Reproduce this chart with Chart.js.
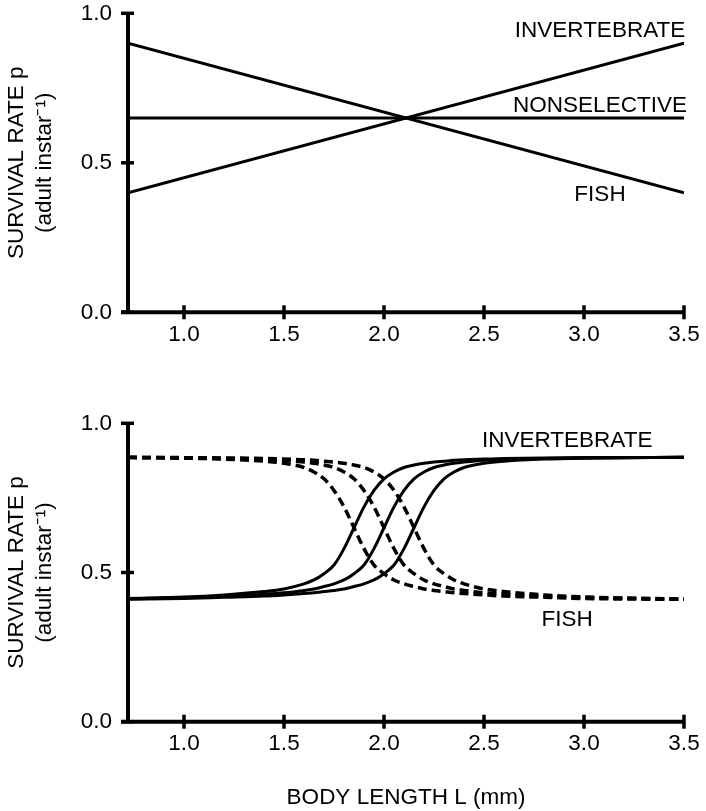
<!DOCTYPE html>
<html><head><meta charset="utf-8">
<script src="https://cdn.jsdelivr.net/npm/chart.js@4.4.1/dist/chart.umd.min.js"></script>
<style>
html,body{margin:0;padding:0;background:#fff;}
#wrap{position:relative;width:706px;height:811px;overflow:hidden;}
#c1{position:absolute;left:0;top:0;}
#c2{position:absolute;left:0;top:400px;}
</style></head><body>
<div id="wrap"><canvas id="c1" width="706" height="390"></canvas><canvas id="c2" width="706" height="411"></canvas></div>
<script>
// ---- axes / ticks ----
const xTicks = [1.0, 1.5, 2.0, 2.5, 3.0, 3.5];
const yTicks = [0.0, 0.5, 1.0];
const xMin = 0.72, xMax = 3.5;

// ---- top panel: linear survival curves ----
const topX = [0.72, 3.5];
const topInvertebrate = [0.40, 0.90];
const topNonselective = [0.65, 0.65];
const topFish = [0.90, 0.40];

// ---- bottom panel: sigmoid survival curves ----
const botX = [0.72, 1.0, 1.2, 1.4, 1.5, 1.6, 1.65, 1.7, 1.75, 1.8, 1.85, 1.9, 1.95, 2.0, 2.05, 2.1, 2.15, 2.2, 2.25, 2.3, 2.35, 2.4, 2.5, 2.6, 2.8, 3.0, 3.5];
const invertebrate1 = [0.413, 0.418, 0.425, 0.436, 0.445, 0.462, 0.475, 0.496, 0.525, 0.58, 0.65, 0.72, 0.775, 0.814, 0.837, 0.852, 0.86, 0.866, 0.87, 0.873, 0.876, 0.878, 0.88, 0.882, 0.884, 0.885, 0.886];
const invertebrate2 = [0.411, 0.416, 0.42, 0.427, 0.432, 0.44, 0.445, 0.453, 0.462, 0.475, 0.496, 0.525, 0.58, 0.65, 0.72, 0.775, 0.814, 0.837, 0.852, 0.86, 0.866, 0.87, 0.876, 0.879, 0.882, 0.884, 0.886];
const invertebrate3 = [0.41, 0.413, 0.417, 0.421, 0.425, 0.43, 0.432, 0.436, 0.44, 0.445, 0.453, 0.462, 0.475, 0.496, 0.525, 0.58, 0.65, 0.72, 0.775, 0.814, 0.837, 0.852, 0.866, 0.873, 0.88, 0.883, 0.886];
const fish1 = [0.885, 0.883, 0.88, 0.873, 0.866, 0.852, 0.837, 0.814, 0.775, 0.72, 0.65, 0.58, 0.525, 0.496, 0.475, 0.462, 0.453, 0.445, 0.44, 0.436, 0.432, 0.43, 0.425, 0.421, 0.417, 0.413, 0.41];
const fish2 = [0.886, 0.884, 0.882, 0.879, 0.876, 0.87, 0.866, 0.86, 0.852, 0.837, 0.814, 0.775, 0.72, 0.65, 0.58, 0.525, 0.496, 0.475, 0.462, 0.453, 0.445, 0.44, 0.432, 0.427, 0.42, 0.416, 0.41];
const fish3 = [0.886, 0.885, 0.884, 0.882, 0.88, 0.878, 0.876, 0.873, 0.87, 0.866, 0.86, 0.852, 0.837, 0.814, 0.775, 0.72, 0.65, 0.58, 0.525, 0.496, 0.475, 0.462, 0.445, 0.436, 0.425, 0.418, 0.411];

// ---- text ----
const yTitle = ['SURVIVAL RATE p', '(adult instar\u207B\u00B9)'];
const xTitle = 'BODY LENGTH L (mm)';
const topLabels = [
  {text: 'INVERTEBRATE', x: 3.08, y: 0.94},
  {text: 'NONSELECTIVE', x: 3.08, y: 0.692},
  {text: 'FISH', x: 3.08, y: 0.392}
];
const bottomLabels = [
  {text: 'INVERTEBRATE', x: 2.916, y: 0.94},
  {text: 'FISH', x: 2.916, y: 0.342}
];

const FONT = '"Liberation Sans", Arial, Helvetica, sans-serif';
const FS = 22.5;
const pts = (xs, ys) => xs.map((x, i) => ({x, y: ys[i]}));

const decor = {
  id: 'decor',
  afterDatasetsDraw(chart, args, opts) {
    const {ctx, scales: {x, y}} = chart;
    const ay = y.getPixelForValue(0), ax = x.getPixelForValue(xMin);
    const ax2 = x.getPixelForValue(xMax), ayTop = y.getPixelForValue(1);
    ctx.save();
    ctx.strokeStyle = '#000';
    ctx.lineCap = 'butt';
    ctx.lineWidth = 4;
    ctx.beginPath(); ctx.moveTo(ax - 7, ay); ctx.lineTo(ax2, ay); ctx.stroke();
    ctx.beginPath(); ctx.moveTo(ax, ay); ctx.lineTo(ax, ayTop); ctx.stroke();
    ctx.lineWidth = 3.5;
    xTicks.forEach(v => { const px = x.getPixelForValue(v); ctx.beginPath(); ctx.moveTo(px, ay - 7); ctx.lineTo(px, ay + 7); ctx.stroke(); });
    yTicks.forEach(v => { const py = y.getPixelForValue(v); ctx.beginPath(); ctx.moveTo(ax - 7, py); ctx.lineTo(ax + 6, py); ctx.stroke(); });
    ctx.fillStyle = '#000';
    ctx.font = FS + 'px ' + FONT;
    ctx.textAlign = 'center';
    ctx.textBaseline = 'middle';
    (opts.labels || []).forEach(l => ctx.fillText(l.text, x.getPixelForValue(l.x), y.getPixelForValue(l.y)));
    ctx.restore();
  }
};

function makeOptions(areaTop, areaBottom, canvasH, labels, withXTitle) {
  return {
    responsive: false,
    animation: false,
    layout: {padding: {left: 0, right: 22, top: areaTop, bottom: 0}},
    plugins: {legend: {display: false}, tooltip: {enabled: false}, decor: {labels}},
    elements: {point: {radius: 0}},
    scales: {
      x: {
        type: 'linear', min: xMin, max: xMax,
        afterBuildTicks: s => { s.ticks = xTicks.map(v => ({value: v})); },
        afterFit: s => { s.height = canvasH - areaBottom; s.paddingLeft = 0; s.paddingRight = 0; s.paddingTop = 0; s.paddingBottom = 0; },
        grid: {display: false, drawTicks: false},
        border: {display: false},
        ticks: {color: '#000', padding: 8.5, maxRotation: 0, autoSkip: false,
                font: {family: FONT, size: FS}, callback: v => Number(v).toFixed(1)},
        title: {display: withXTitle, text: xTitle, color: '#000',
                font: {family: FONT, size: FS, lineHeight: 1.2}, padding: {top: 0, bottom: 0}}
      },
      y: {
        type: 'linear', min: 0, max: 1,
        afterBuildTicks: s => { s.ticks = yTicks.map(v => ({value: v})); },
        afterFit: s => { s.width = 128; s.paddingTop = 0; s.paddingBottom = 0; s.paddingLeft = 0; s.paddingRight = 0; },
        grid: {display: false, drawTicks: false},
        border: {display: false},
        ticks: {color: '#000', padding: 16, font: {family: FONT, size: FS},
                callback: v => Number(v).toFixed(1)},
        title: {display: true, text: yTitle, color: '#000',
                font: {family: FONT, size: FS, lineHeight: 1.245}, padding: {top: 3, bottom: 0}}
      }
    }
  };
}

const solid = {borderColor: '#000', borderWidth: 3, showLine: true, fill: false, pointRadius: 0};
const dashed = Object.assign({}, solid, {borderDash: [9, 5], borderWidth: 3.5});

new Chart(document.getElementById('c1'), {
  type: 'scatter',
  data: {datasets: [
    Object.assign({label: 'INVERTEBRATE', data: pts(topX, topInvertebrate)}, solid),
    Object.assign({label: 'NONSELECTIVE', data: pts(topX, topNonselective)}, solid),
    Object.assign({label: 'FISH', data: pts(topX, topFish)}, solid)
  ]},
  options: makeOptions(13.3, 312.3, 390, topLabels, false),
  plugins: [decor]
});

const curve = {cubicInterpolationMode: 'monotone'};
new Chart(document.getElementById('c2'), {
  type: 'scatter',
  data: {datasets: [
    Object.assign({label: 'INVERTEBRATE 1', data: pts(botX, invertebrate1)}, solid, curve),
    Object.assign({label: 'INVERTEBRATE 2', data: pts(botX, invertebrate2)}, solid, curve),
    Object.assign({label: 'INVERTEBRATE 3', data: pts(botX, invertebrate3)}, solid, curve),
    Object.assign({label: 'FISH 1', data: pts(botX, fish1)}, dashed, curve),
    Object.assign({label: 'FISH 2', data: pts(botX, fish2)}, dashed, curve),
    Object.assign({label: 'FISH 3', data: pts(botX, fish3)}, dashed, curve)
  ]},
  options: makeOptions(23.3, 321.7, 411, bottomLabels, true),
  plugins: [decor]
});
</script>
</body></html>
